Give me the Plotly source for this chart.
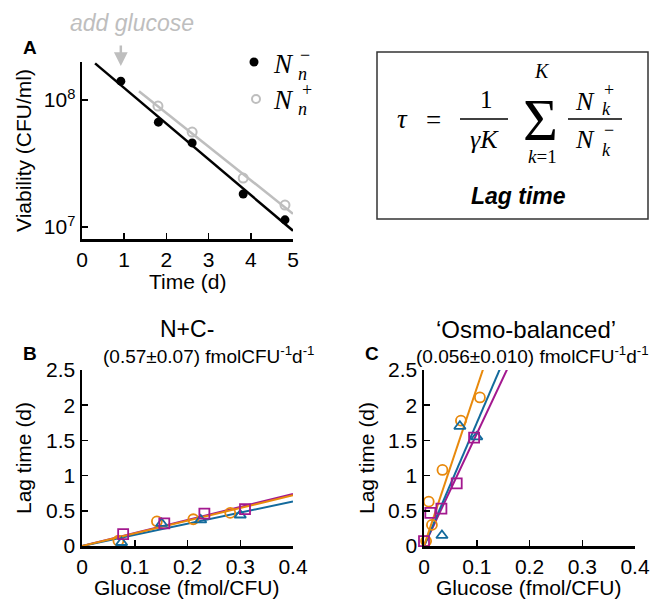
import numpy as np
import plotly.graph_objects as go

# ---------------- data ----------------
# Panel A: viability vs time
time_minus = [0.92, 1.81, 2.61, 3.82, 4.81]
via_minus = [1.41e8, 6.7e7, 4.6e7, 1.82e7, 1.14e7]
time_plus = [1.80, 2.61, 3.82, 4.81]
via_plus = [8.97e7, 5.6e7, 2.43e7, 1.49e7]
fit_start_minus = 0.31
fit_start_plus = 1.35
glucose_time = 0.92

# Panel B: N+C-
b_orange_x = [0.069, 0.142, 0.211, 0.281]
b_orange_y = [0.075, 0.35, 0.38, 0.47]
b_blue_x = [0.075, 0.151, 0.225, 0.300]
b_blue_y = [0.05, 0.32, 0.37, 0.44]
b_mag_x = [0.078, 0.156, 0.232, 0.309]
b_mag_y = [0.17, 0.32, 0.46, 0.525]

# Panel C: Osmo-balanced
c_orange_x = [0.004, 0.009, 0.015, 0.035, 0.070, 0.106]
c_orange_y = [0.07, 0.63, 0.30, 1.08, 1.78, 2.11]
c_blue_x = [0.034, 0.068, 0.100]
c_blue_y = [0.15, 1.70, 1.55]
c_mag_x = [0.0, 0.012, 0.033, 0.062, 0.095]
c_mag_y = [0.07, 0.47, 0.53, 0.89, 1.54]

x_ticks_time = [0, 1, 2, 3, 4, 5]
y_ticks_via = [1e7, 1e8]
y_ticktext_via = ["10<sup>7</sup>", "10<sup>8</sup>"]
glu_ticks = [0, 0.1, 0.2, 0.3, 0.4]
glu_ticktext = ["0", "0.1", "0.2", "0.3", "0.4"]
lag_ticks = [0, 0.5, 1, 1.5, 2, 2.5]
lag_ticktext = ["0", "0.5", "1", "1.5", "2", "2.5"]

# ---------------- style ----------------
W, H = 654, 601
ORANGE = "#E8890C"
BLUE = "#136A9C"
MAG = "#A3188F"
GRAY = "#BEBEBE"
SANS = "Liberation Sans, Arial, Helvetica, sans-serif"
SERIF = "Liberation Serif, DejaVu Serif, serif"


def px(x):
    return x / W


def py(y):
    return 1 - y / H


fig = go.Figure()


def logfit_line(t, v, t0, t1):
    k, b = np.polyfit(np.array(t), np.log10(np.array(v)), 1)
    tt = np.linspace(t0, t1, 50)
    return tt, 10 ** (k * tt + b)


def origin_fit(x, y, xmax=0.4):
    x = np.array(x)
    y = np.array(y)
    s = (x * y).sum() / (x * x).sum()
    xx = np.linspace(0, xmax, 200)
    return xx, s * xx


# Panel A
tt, vv = logfit_line(time_plus, via_plus, fit_start_plus, 5)
fig.add_trace(go.Scatter(x=tt, y=vv, mode="lines", line=dict(color=GRAY, width=2.5),
                         xaxis="x", yaxis="y", showlegend=False, hoverinfo="skip"))
tt, vv = logfit_line(time_minus, via_minus, fit_start_minus, 5)
fig.add_trace(go.Scatter(x=tt, y=vv, mode="lines", line=dict(color="black", width=2.5),
                         xaxis="x", yaxis="y", showlegend=False, hoverinfo="skip"))
fig.add_trace(go.Scatter(x=time_plus, y=via_plus, mode="markers",
                         marker=dict(symbol="circle-open", size=9, color=GRAY,
                                     line=dict(color=GRAY, width=2)),
                         xaxis="x", yaxis="y", showlegend=False, cliponaxis=False))
fig.add_trace(go.Scatter(x=time_minus, y=via_minus, mode="markers",
                         marker=dict(symbol="circle", size=9, color="black"),
                         xaxis="x", yaxis="y", showlegend=False, cliponaxis=False))

# Panels B and C
series_b = [(b_mag_x, b_mag_y, MAG, "square-open"),
            (b_blue_x, b_blue_y, BLUE, "triangle-up-open"),
            (b_orange_x, b_orange_y, ORANGE, "circle-open")]
series_c = [(c_mag_x, c_mag_y, MAG, "square-open"),
            (c_blue_x, c_blue_y, BLUE, "triangle-up-open"),
            (c_orange_x, c_orange_y, ORANGE, "circle-open")]

for series, xa, ya in [(series_b, "x2", "y2"), (series_c, "x3", "y3")]:
    for sx, sy, col, sym in series:
        lx, ly = origin_fit(sx, sy)
        fig.add_trace(go.Scatter(x=lx, y=ly, mode="lines", line=dict(color=col, width=2),
                                 xaxis=xa, yaxis=ya, showlegend=False, hoverinfo="skip"))
    for sx, sy, col, sym in [series[2], series[1], series[0]]:
        fig.add_trace(go.Scatter(x=sx, y=sy, mode="markers",
                                 marker=dict(symbol=sym, size=10, color=col,
                                             line=dict(color=col, width=1.8)),
                                 xaxis=xa, yaxis=ya, showlegend=False, cliponaxis=False))

axis_common = dict(showline=True, linewidth=2.5, linecolor="black", ticks="inside",
                   ticklen=6, tickwidth=1.5, tickcolor="black", showgrid=False,
                   zeroline=False, tickfont=dict(family=SANS, size=21, color="black"),
                   mirror=False, automargin=False)

fig.update_layout(
    width=W, height=H, margin=dict(l=0, r=0, t=0, b=0, pad=0, autoexpand=False),
    paper_bgcolor="white", plot_bgcolor="white",
    xaxis=dict(domain=[px(82), px(293)], range=[0, 5], tickvals=x_ticks_time,
               anchor="y", **axis_common),
    yaxis=dict(domain=[py(239), py(62)], type="log", range=[6.906, 8.30],
               tickvals=y_ticks_via, ticktext=y_ticktext_via, anchor="x", **axis_common),
    xaxis2=dict(domain=[px(82), px(293)], range=[0, 0.4], tickvals=glu_ticks,
                ticktext=glu_ticktext, anchor="y2", **axis_common),
    yaxis2=dict(domain=[py(546), py(370)], range=[0, 2.5], tickvals=lag_ticks,
                ticktext=lag_ticktext, anchor="x2", **axis_common),
    xaxis3=dict(domain=[px(424), px(635)], range=[0, 0.4], tickvals=glu_ticks,
                ticktext=glu_ticktext, anchor="y3", **axis_common),
    yaxis3=dict(domain=[py(546), py(370)], range=[0, 2.5], tickvals=lag_ticks,
                ticktext=lag_ticktext, anchor="x3", **axis_common),
)

ann = []


def text(x, y, t, size=21, family=SANS, color="black", angle=0, xanchor="center"):
    ann.append(dict(x=px(x), y=py(y), xref="paper", yref="paper", text=t, showarrow=False,
                    xanchor=xanchor, yanchor="middle", textangle=angle,
                    font=dict(family=family, size=size, color=color)))


# axis titles
text(187, 281, "Time (d)")
text(23, 151, "Viability (CFU/ml)", angle=-90)
text(187, 587, "Glucose (fmol/CFU)")
text(23, 458, "Lag time (d)", angle=-90)
text(529, 587, "Glucose (fmol/CFU)")
text(366, 458, "Lag time (d)", angle=-90)

# panel letters
text(30, 47, "<b>A</b>", size=19)
text(30, 353, "<b>B</b>", size=19)
text(372, 353, "<b>C</b>", size=19)

# titles
text(187, 329, "N+C-", size=23)
text(209, 355, "(0.57±0.07) fmolCFU<sup>-1</sup>d<sup>-1</sup>", size=19)
text(526, 329, "‘Osmo-balanced’", size=24)
text(532, 355, "(0.056±0.010) fmolCFU<sup>-1</sup>d<sup>-1</sup>", size=19)

# add glucose
text(132, 23, "<i>add glucose</i>", size=23, color=GRAY)
ann.append(dict(x=glucose_time, y=py(66), xref="x", yref="paper", text="", showarrow=True,
                ax=0, ay=-22, arrowhead=2, arrowsize=1.1, arrowwidth=2.5, arrowcolor=GRAY))

# legend text
text(283, 64, "<i>N</i>", size=27, family=SERIF)
text(305, 55, "−", size=18, family=SERIF)
text(302, 74, "<i>n</i>", size=18, family=SERIF)
text(283, 100, "<i>N</i>", size=27, family=SERIF)
text(307, 90, "+", size=18, family=SERIF)
text(302, 109, "<i>n</i>", size=18, family=SERIF)

# formula
text(402, 119, "<i>τ</i>", size=27, family=SERIF)
text(433, 120, "=", size=27, family=SERIF)
text(486, 100, "1", size=25, family=SERIF)
text(484, 139, "<i>γK</i>", size=26, family=SERIF)
text(540, 120, "Σ", size=60, family=SERIF)
text(542, 71, "<i>K</i>", size=20, family=SERIF)
text(542, 156, "<i>k</i>=1", size=19, family=SERIF)
text(585, 102, "<i>N</i>", size=26, family=SERIF)
text(609, 90, "+", size=18, family=SERIF)
text(606, 109, "<i>k</i>", size=18, family=SERIF)
text(585, 139, "<i>N</i>", size=26, family=SERIF)
text(609, 130, "−", size=18, family=SERIF)
text(606, 150, "<i>k</i>", size=18, family=SERIF)
text(518, 196, "<b><i>Lag time</i></b>", size=23)

shapes = [
    dict(type="rect", xref="paper", yref="paper", x0=px(377), x1=px(648), y0=py(219),
         y1=py(52), line=dict(color="#333333", width=1.5)),
    dict(type="line", xref="paper", yref="paper", x0=px(460), x1=px(508), y0=py(119),
         y1=py(119), line=dict(color="black", width=1.3)),
    dict(type="line", xref="paper", yref="paper", x0=px(568), x1=px(622), y0=py(119),
         y1=py(119), line=dict(color="black", width=1.3)),
    # legend symbols
    dict(type="circle", xref="paper", yref="paper", x0=px(249.5), x1=px(258.5),
         y0=py(66.5), y1=py(57.5), fillcolor="black", line=dict(color="black", width=0)),
    dict(type="circle", xref="paper", yref="paper", x0=px(252), x1=px(260),
         y0=py(103), y1=py(95), line=dict(color=GRAY, width=2)),
]

fig.update_layout(annotations=ann, shapes=shapes)
fig.write_html("out.html", config={"displayModeBar": False, "staticPlot": True},
               post_script="document.body.style.margin='0';document.body.style.overflow='hidden';")
